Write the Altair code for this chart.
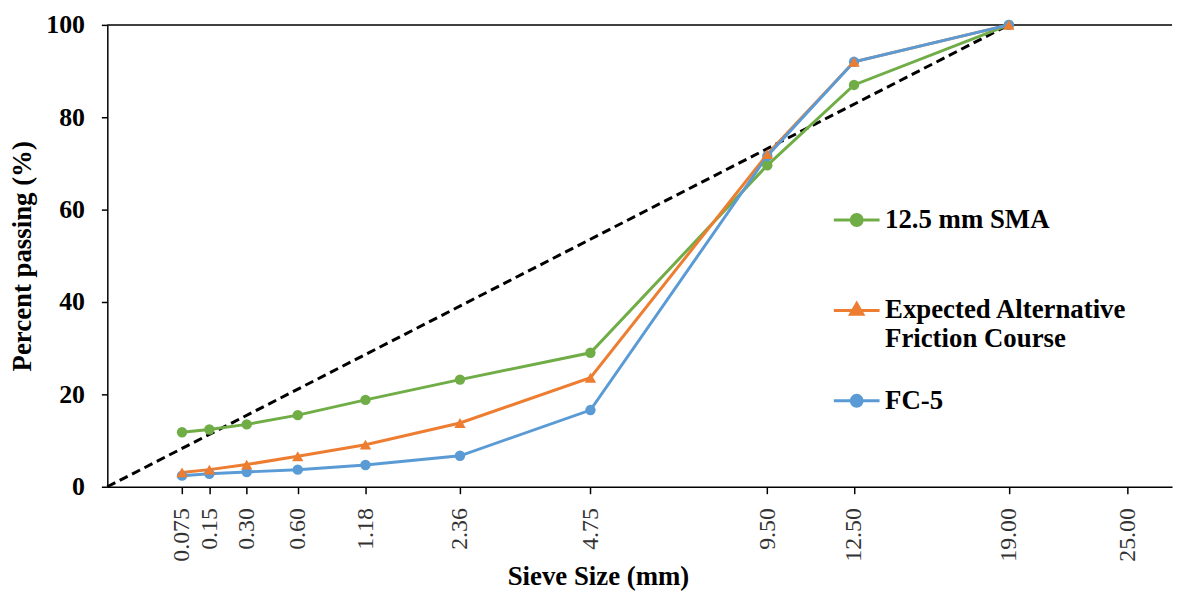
import altair as alt
import pandas as pd

# Sieve sizes (mm) and percent passing for each gradation
sieve = [0.075, 0.15, 0.30, 0.60, 1.18, 2.36, 4.75, 9.50, 12.50, 19.00]
sma = [11.8, 12.4, 13.5, 15.5, 18.8, 23.2, 29.0, 69.6, 87.0, 100.0]
afc = [3.1, 3.7, 4.8, 6.6, 9.1, 13.8, 23.6, 72.0, 92.0, 100.0]
fc5 = [2.4, 2.8, 3.2, 3.7, 4.7, 6.7, 16.6, 71.6, 92.0, 100.0]

series_names = ["12.5 mm SMA", "Expected Alternative Friction Course", "FC-5"]
series_colors = ["#70AD47", "#ED7D31", "#5B9BD5"]

# Maximum density line (0.45 power)
mdl_sieve = [0.0, 19.0]
mdl_pct = [0.0, 100.0]

tick_values = [0.075, 0.15, 0.30, 0.60, 1.18, 2.36, 4.75, 9.50, 12.50, 19.00, 25.00]
y_ticks = [0, 20, 40, 60, 80, 100]

rows = []
for name, vals in zip(series_names, [sma, afc, fc5]):
    for s, v in zip(sieve, vals):
        rows.append({"sieve": s, "pct": v, "series": name})
df = pd.DataFrame(rows)
mdl_df = pd.DataFrame({"sieve": mdl_sieve, "pct": mdl_pct})
top_df = pd.DataFrame({"pct": [100]})

FONT = "Liberation Serif"

x_enc = alt.X(
    "sieve:Q",
    scale=alt.Scale(type="pow", exponent=0.45, domain=[0, 27.5], nice=False),
    axis=alt.Axis(
        values=tick_values,
        labelExpr="datum.value == 0.075 ? '0.075' : format(datum.value, '.2f')",
        labelAngle=270,
        labelAlign="right",
        labelBaseline="middle",
        labelFont=FONT,
        labelFontSize=24,
        labelColor="#333333",
        labelPadding=14,
        grid=False,
        domainColor="#000000",
        domainWidth=1.5,
        tickColor="#000000",
        tickWidth=1.5,
        tickSize=7,
        title="Sieve Size (mm)",
        titleFont=FONT,
        titleFontSize=27,
        titleFontWeight="bold",
        titleColor="#000000",
        titleX=494,
        titleY=90,
        titleBaseline="middle",
        labelOverlap=False,
    ),
)

y_enc = alt.Y(
    "pct:Q",
    scale=alt.Scale(domain=[0, 100], nice=False),
    axis=alt.Axis(
        values=y_ticks,
        labelFont=FONT,
        labelFontSize=26,
        labelFontWeight="bold",
        labelColor="#000000",
        labelPadding=17,
        grid=False,
        domainColor="#000000",
        domainWidth=1.5,
        tickColor="#000000",
        tickWidth=1.5,
        tickSize=6,
        title="Percent passing (%)",
        titleFont=FONT,
        titleFontSize=27,
        titleFontWeight="bold",
        titleColor="#000000",
        titlePadding=9,
    ),
)

circle_sym = "M-1,0L1,0M-0.24,0A0.24,0.24,0,1,0,0.24,0A0.24,0.24,0,1,0,-0.24,0Z"
tri_sym = "M-1,0L1,0M0,-0.3L0.27,0.17L-0.27,0.17Z"
sma_name, afc_name, fc5_name = series_names

legend_def = alt.Legend(
    title=None,
    orient="none",
    legendX=730,
    legendY=172,
    symbolSize=2116,
    symbolType=alt.ExprRef(
        expr=f"datum.value == '{afc_name}' ? '{tri_sym}' : '{circle_sym}'"
    ),
    symbolStrokeColor=alt.ExprRef(expr="scale('color', datum.value)"),
    symbolStrokeWidth=3,
    symbolOpacity=1,
    labelFont=FONT,
    labelFontSize=27,
    labelFontWeight="bold",
    labelColor="#000000",
    labelLimit=600,
    labelOffset=4,
    rowPadding=24,
    labelExpr=(
        f"datum.label == '{afc_name}' ? ['Expected Alternative', 'Friction Course'] : "
        f"datum.label == '{sma_name}' ? ['{sma_name}', ' '] : datum.label"
    ),
)

color_scale = alt.Scale(domain=series_names, range=series_colors)

mdl = alt.Chart(mdl_df).mark_line(
    color="#000000", strokeWidth=3, strokeDash=[9, 5]
).encode(x=x_enc, y=y_enc)

top_rule = alt.Chart(top_df).mark_rule(color="#000000", strokeWidth=1.5).encode(
    y=alt.Y("pct:Q")
)

lines = alt.Chart(df).mark_line(strokeWidth=3).encode(
    x=x_enc,
    y=y_enc,
    color=alt.Color("series:N", scale=color_scale, legend=legend_def),
    order=alt.Order("sieve:Q"),
)

circles = alt.Chart(df).transform_filter(
    alt.datum.series != afc_name
).mark_circle(size=110, opacity=1).encode(
    x=x_enc,
    y=y_enc,
    color=alt.Color("series:N", scale=color_scale, legend=legend_def),
)

triangles = alt.Chart(df).transform_filter(
    alt.datum.series == afc_name
).mark_point(shape="triangle-up", filled=True, size=130, opacity=1).encode(
    x=x_enc,
    y=y_enc,
    color=alt.Color("series:N", scale=color_scale, legend=legend_def),
)

chart = alt.layer(mdl, top_rule, lines, circles, triangles).properties(
    width=1072,
    height=465,
    padding={"left": 100, "top": 15, "right": 8, "bottom": 106},
    autosize=alt.AutoSizeParams(type="none"),
    background="#ffffff",
).configure_view(stroke=None)

chart.save("out.html", embed_options={"renderer": "svg", "actions": False})
